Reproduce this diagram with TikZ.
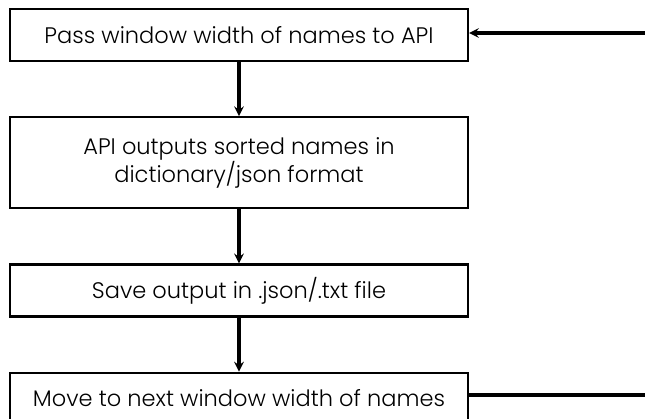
\documentclass[tikz,border=0pt]{standalone}
\usepackage{fontspec}
\setmainfont{Poppins}[UprightFont=* Light]
\usetikzlibrary{arrows}
\usetikzlibrary{positioning}

\begin{document}
\begin{tikzpicture}[
      block/.style ={rectangle, draw=black, line width=2.2pt, align=center,
                     minimum width=458pt, minimum height=52pt, inner sep=2pt,
                     font=\fontsize{22.5}{28}\selectfont},
      link/.style  ={-stealth, line width=3.2pt},
      node distance=54pt
    ]
    \useasboundingbox (0,0) rectangle (645pt,-418pt);

    \node [block] (pass) at (239pt,-35pt) {Pass window width of names to API} ;
    \node [block, minimum height=91pt] (api) [below=of pass] {API outputs sorted names in\\ dictionary/json format} ;
    \node [block] (save) [below=of api] {Save output in .json/.txt file} ;
    \node [block, minimum height=50pt] (move) [below=of save] {Move to next window width of names} ;

    \coordinate (loopin)  at (645pt,-33pt) ;
    \coordinate (loopout) at (645pt,-395pt) ;

    \draw [link] (pass) -- (api) ;
    \draw [link] (api) -- (save) ;
    \draw [link] (save) -- (move) ;
    \draw [link] (loopin) -- (loopin -| pass.east) ;
    \draw [line width=3.2pt] (move.east |- loopout) -- (loopout) ;
  \end{tikzpicture}
\end{document}
